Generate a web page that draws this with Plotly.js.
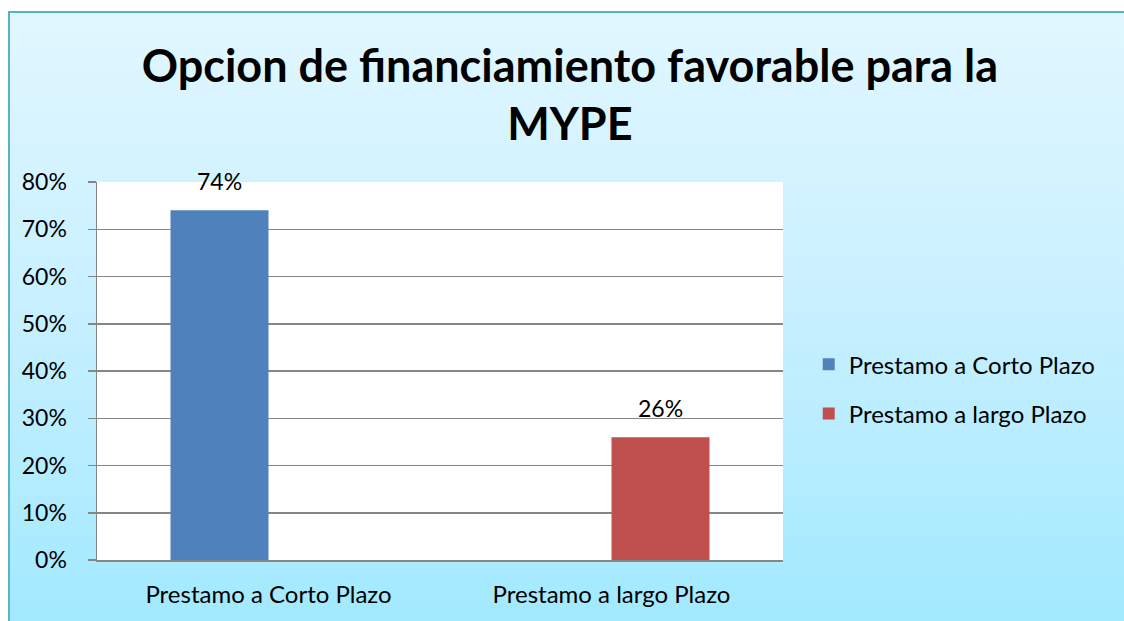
<!DOCTYPE html>
<html>
<head>
<meta charset="utf-8">
<script src="https://cdn.plot.ly/plotly-3.0.1.min.js"></script>
<style>
  html, body { margin: 0; padding: 0; background: #ffffff; overflow: hidden; }
  #frame {
    position: absolute; left: 8px; top: 11px; width: 1130px; height: 630px;
    border: 2px solid #55b3cc;
    background: linear-gradient(to bottom, #e1f7ff 0%, #c9f0ff 45%, #a0e9ff 100%);
    box-sizing: border-box;
  }
  #chart { position: absolute; left: 0; top: 0; width: 1124px; height: 621px; }
</style>
</head>
<body>
<div id="frame"></div>
<div id="chart"></div>
<script>
const categories = ["Prestamo a Corto Plazo", "Prestamo a largo Plazo"];
const seriesNames = ["Prestamo a Corto Plazo", "Prestamo a largo Plazo"];
const corto = [74, null];
const largo = [null, 26];
const yTicks = [0, 10, 20, 30, 40, 50, 60, 70, 80];
const yTickLabels = ["0%", "10%", "20%", "30%", "40%", "50%", "60%", "70%", "80%"];
const titleText = "Opcion de financiamiento favorable para la<br>MYPE";

const FONT = "Lato, 'Open Sans', sans-serif";
const colors = ["#4f81bd", "#c0504d"];
const series = [corto, largo];

const traces = series.map((vals, i) => ({
  type: "bar",
  name: seriesNames[i],
  x: categories,
  y: vals,
  marker: { color: colors[i] },
  legendgroup: "g" + i,
  hoverinfo: "skip"
}));

const annotations = [];
series.forEach((vals, i) => {
  vals.forEach((v, j) => {
    if (v === null) return;
    annotations.push({
      x: categories[j], y: v, xref: "x", yref: "y",
      text: v + "%", showarrow: false,
      yanchor: "bottom", yshift: 13, xshift: i === 0 ? -49 : 49,
      font: { family: FONT, size: 23, color: "#000000" }
    });
  });
});

const layout = {
  width: 1124, height: 621,
  paper_bgcolor: "rgba(0,0,0,0)",
  plot_bgcolor: "#ffffff",
  margin: { l: 97, r: 341, t: 182, b: 61 },
  barmode: "group",
  bargap: 0.4286,
  bargroupgap: 0,
  title: {
    text: titleText,
    x: 0.507, xref: "container", xanchor: "center",
    y: 0.868, yref: "container", yanchor: "top",
    font: { family: FONT, size: 45, color: "#000000", weight: "bold" }
  },
  xaxis: {
    type: "category",
    showline: true, linecolor: "#868686", linewidth: 1.5,
    ticks: "", showgrid: false,
    tickfont: { family: FONT, size: 24, color: "#000000" },
    ticklabelstandoff: 13
  },
  yaxis: {
    range: [0, 80], tickvals: yTicks, ticktext: yTickLabels,
    showline: true, linecolor: "#868686", linewidth: 1.5,
    ticks: "outside", ticklen: 8, tickcolor: "#868686", tickwidth: 1.5,
    showgrid: true, gridcolor: "#868686", gridwidth: 1.5,
    zeroline: false,
    tickfont: { family: FONT, size: 23, color: "#000000" },
    ticklabelstandoff: 16
  },
  legend: {
    x: 1.0375, xanchor: "left", y: 0.452, yanchor: "middle",
    bgcolor: "rgba(0,0,0,0)",
    font: { family: FONT, size: 24, color: "#000000" },
    traceorder: "grouped", tracegroupgap: 15,
    itemwidth: 30
  },
  annotations: annotations,
  showlegend: true
};

Plotly.newPlot("chart", traces, layout, { displayModeBar: false, staticPlot: true });
</script>
</body>
</html>
